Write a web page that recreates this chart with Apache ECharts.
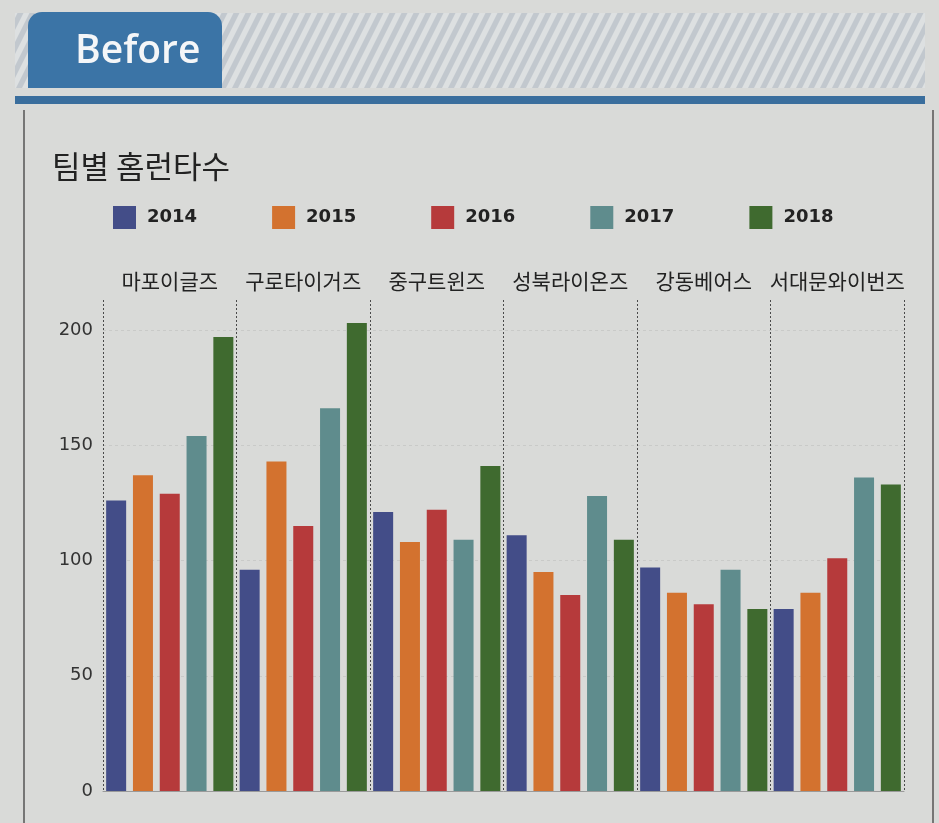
<!DOCTYPE html>
<html>
<head>
<meta charset="utf-8">
<script src="https://cdn.jsdelivr.net/npm/echarts@6/dist/echarts.min.js"></script>
<style>
  html, body { margin: 0; padding: 0; background: #d9dad8; }
  #chart { width: 939px; height: 823px; }
</style>
</head>
<body>
<div id="chart"></div>
<script>
// 팀별 홈런타수 data
var teams = ['마포이글즈', '구로타이거즈', '중구트윈즈', '성북라이온즈', '강동베어스', '서대문와이번즈'];
var years = ['2014', '2015', '2016', '2017', '2018'];
var hr2014 = [126, 96, 121, 111, 97, 79];
var hr2015 = [137, 143, 108, 95, 86, 86];
var hr2016 = [129, 115, 122, 85, 81, 101];
var hr2017 = [154, 166, 109, 128, 96, 136];
var hr2018 = [197, 203, 141, 109, 79, 133];
var colors = ['#434d88', '#d3722f', '#b63a3b', '#5f8c8d', '#3f6a2f'];

var chart = echarts.init(document.getElementById('chart'));

// diagonal hatch for the header band
function hatchPattern() {
  var c = document.createElement('canvas');
  c.width = 12;
  c.height = 24;
  var ctx = c.getContext('2d');
  ctx.fillStyle = '#dde0e1';
  ctx.fillRect(0, 0, 12, 24);
  ctx.fillStyle = '#c2c8ce';
  [-12, 0, 12].forEach(function (k) {
    ctx.beginPath();
    ctx.moveTo(k, 24);
    ctx.lineTo(k + 6, 24);
    ctx.lineTo(k + 18, 0);
    ctx.lineTo(k + 12, 0);
    ctx.closePath();
    ctx.fill();
  });
  return c;
}

function makeSerie(name, data, idx) {
  return {
    name: name,
    type: 'bar',
    xAxisIndex: 0,
    yAxisIndex: 0,
    data: data,
    barWidth: 20,
    barGap: '34%',
    clip: false,
    itemStyle: { color: colors[idx] }
  };
}

var yearData = [hr2014, hr2015, hr2016, hr2017, hr2018];
var series = [];
for (var i = 0; i < years.length; i++) {
  series.push(makeSerie(years[i], yearData[i], i));
}

chart.setOption({
  backgroundColor: '#d9dad8',
  animation: false,
  color: colors,
  title: {
    text: '팀별 홈런타수',
    left: 52,
    top: 151,
    padding: 0,
    textStyle: {
      fontFamily: 'Noto Sans CJK KR',
      fontSize: 31,
      fontWeight: 'normal',
      color: '#222'
    }
  },
  legend: {
    data: years,
    left: 113,
    top: 206,
    padding: 0,
    itemWidth: 23,
    itemHeight: 23,
    itemGap: 75,
    icon: 'rect',
    textStyle: {
      fontFamily: 'DejaVu Sans',
      fontSize: 18,
      fontWeight: 'bold',
      color: '#222',
      padding: [0, 0, 0, 6]
    }
  },
  grid: [
    { left: 103, right: 35, top: 330, bottom: 32 },
    { left: 103, right: 35, top: 300, bottom: 32 }
  ],
  xAxis: [
    {
      type: 'category',
      gridIndex: 0,
      data: teams,
      axisLine: { lineStyle: { color: '#9a9a9a' } },
      axisTick: { show: false },
      axisLabel: { show: false },
      splitLine: { show: false }
    },
    {
      type: 'category',
      gridIndex: 1,
      position: 'top',
      data: teams,
      axisLine: { show: false },
      axisTick: { show: false, interval: 0 },
      axisLabel: {
        interval: 0,
        margin: 8,
        fontFamily: 'Noto Sans CJK KR',
        fontSize: 21,
        color: '#222'
      },
      splitLine: {
        show: true,
        interval: 0,
        lineStyle: { color: '#4a4a4a', width: 1, type: [2, 2] }
      }
    }
  ],
  yAxis: [
    {
      type: 'value',
      gridIndex: 0,
      min: 0,
      max: 200,
      interval: 50,
      axisLine: { show: false },
      axisTick: { show: false },
      axisLabel: {
        margin: 10,
        fontFamily: 'DejaVu Sans',
        fontSize: 18,
        color: '#333'
      },
      splitLine: {
        lineStyle: { color: 'rgba(0,0,0,0.07)', type: [3, 3] }
      }
    },
    {
      type: 'value',
      gridIndex: 1,
      show: false
    }
  ],
  graphic: [
    {
      type: 'rect',
      shape: { x: 15, y: 13, width: 910, height: 75 },
      style: { fill: { image: hatchPattern(), repeat: 'repeat' } },
      silent: true
    },
    {
      type: 'rect',
      shape: { x: 28, y: 12, width: 194, height: 76, r: [14, 14, 0, 0] },
      style: { fill: '#3b74a6' },
      silent: true
    },
    {
      type: 'text',
      x: 75,
      y: 52,
      style: {
        text: 'Before',
        fill: '#f4f6f8',
        font: '600 39px "Open Sans"',
        verticalAlign: 'middle'
      },
      silent: true
    },
    {
      type: 'rect',
      shape: { x: 15, y: 96, width: 910, height: 8 },
      style: { fill: '#3a6e9d' },
      silent: true
    },
    {
      type: 'line',
      shape: { x1: 24, y1: 110, x2: 24, y2: 823 },
      style: { stroke: '#555', lineWidth: 1.5 },
      silent: true
    },
    {
      type: 'line',
      shape: { x1: 933, y1: 110, x2: 933, y2: 823 },
      style: { stroke: '#555', lineWidth: 1.5 },
      silent: true
    }
  ],
  series: series
});
</script>
</body>
</html>
